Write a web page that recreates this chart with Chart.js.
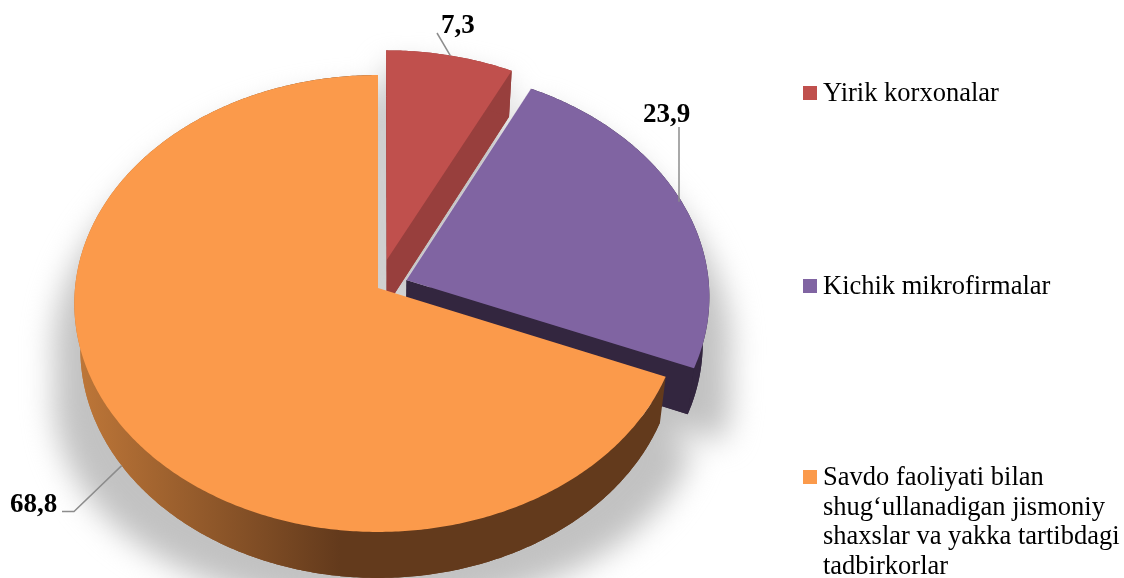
<!DOCTYPE html>
<html lang="en">
<head>
  <meta charset="UTF-8">
  <title>Pie</title>
  <style>
    body { margin: 0; background: #fff; font-family: "Liberation Serif", serif; color: #000; }
    #wrap { position: relative; width: 1124px; height: 578px; overflow: hidden; }
    canvas { position: absolute; left: 0; top: 0; }
    .item { position: absolute; left: 823px; font-size: 26.5px; line-height: 29.5px; white-space: nowrap; }
    .item i { position: absolute; left: -20px; top: 8px; width: 14px; height: 14px; }
  </style>
  <script src="https://cdn.jsdelivr.net/npm/chart.js"></script>
</head>
<body>
  <div id="wrap">
    <canvas id="pie" width="1124" height="578"></canvas>
  </div>
  <script>
const categories = ['Yirik korxonalar', 'Kichik mikrofirmalar', 'Savdo faoliyati bilan shug\u2018ullanadigan jismoniy shaxslar va yakka tartibdagi tadbirkorlar'];
const values = [7.3, 23.9, 68.8];
const valueLabels = ['7,3', '23,9', '68,8'];
const topColors = ['#c0504d', '#8064a2', '#fb9a4b'];
const sideColors = ['#983f3d', '#33263f', '#633a1c'];

// how far each slice is pulled out of the pie (share of the radius)
const explode = [0.128, 0.1, 0];

// projection of the tilted disc
const cx = 378, cy = 288, radX = 303, radY = 227.4, persp = 0.0678;
const depth = 46, lowerShrink = 0.98;

function project(u, v) {
  const d = 1 - persp * v;
  return [cx + radX * u / d, cy + radY * v / d];
}
function lower(p) {
  return [cx + (p[0] - cx) * lowerShrink, p[1] + depth];
}

function sliceGeom(arc, i) {
  const a0 = arc.startAngle + Math.PI / 2, a1 = arc.endAngle + Math.PI / 2;
  const mid = (a0 + a1) / 2;
  const du = Math.sin(mid) * explode[i], dv = -Math.cos(mid) * explode[i];
  const at = t => project(du + Math.sin(t), dv - Math.cos(t));
  const rim = [];
  const n = Math.ceil((a1 - a0) / 0.01);
  for (let k = 0; k <= n; k++) rim.push(at(a0 + (a1 - a0) * k / n));
  return { apex: project(du, dv), rim, midPoint: at(mid) };
}

function poly(ctx, pts, fill) {
  ctx.beginPath();
  pts.forEach((p, k) => k ? ctx.lineTo(p[0], p[1]) : ctx.moveTo(p[0], p[1]));
  ctx.closePath();
  ctx.fillStyle = fill;
  ctx.fill();
}

// the shadow spreads wider towards the bottom of the picture
function shadowPoint(p) {
  const s = 1 + 0.14 * Math.max(0, p[1] - 170) / 300;
  return [cx + (p[0] - cx) * s, p[1] + 17 + 0.03 * (p[1] - 75)];
}

const pie3d = {
  id: 'pie3d',
  beforeDatasetsDraw(chart) {
    const ctx = chart.ctx;
    const geoms = chart.getDatasetMeta(0).data.map((arc, i) => sliceGeom(arc, i));

    // soft shadow under everything
    ctx.save();
    ctx.filter = 'blur(15px)';
    ctx.fillStyle = '#c2c2c2';
    ctx.beginPath();
    geoms.forEach(g => {
      const up = [g.apex].concat(g.rim).map(shadowPoint);
      const low = [lower(g.apex)].concat(g.rim.map(lower)).map(shadowPoint);
      [up, low].forEach(pts => {
        pts.forEach((p, k) => k ? ctx.lineTo(p[0], p[1]) : ctx.moveTo(p[0], p[1]));
        ctx.closePath();
      });
    });
    ctx.fill();
    ctx.restore();

    geoms.forEach((g, i) => {
      let side = sideColors[i];
      if (i === 2) {
        side = ctx.createLinearGradient(80, 0, 340, 0);
        side.addColorStop(0, '#bd7638');
        side.addColorStop(1, sideColors[i]);
      }
      const lowRim = g.rim.map(lower);
      const lowApex = lower(g.apex);
      poly(ctx, [lowApex].concat(lowRim), side);
      poly(ctx, [g.apex, g.rim[g.rim.length - 1], lowRim[lowRim.length - 1], lowApex], sideColors[i]);
      poly(ctx, g.rim.concat(lowRim.slice().reverse()), side);
      poly(ctx, [g.apex].concat(g.rim), topColors[i]);
    });

    // thin light seam along the purple slice
    ctx.strokeStyle = 'rgba(255,255,255,0.35)';
    ctx.lineWidth = 1;
    ctx.beginPath();
    ctx.moveTo(geoms[1].apex[0], geoms[1].apex[1]);
    ctx.lineTo(geoms[1].rim[0][0], geoms[1].rim[0][1]);
    ctx.stroke();

    // leader lines, from the middle of each slice
    const leaders = [
      [[437, 33], geoms[0].midPoint],
      [[679, 127], [679, geoms[1].midPoint[1]]],
      [[62, 511.5], [74, 511.5], lower(geoms[2].midPoint)]
    ];
    ctx.strokeStyle = '#8c8c8c';
    ctx.lineWidth = 1.5;
    leaders.forEach(pts => {
      ctx.beginPath();
      pts.forEach((p, k) => k ? ctx.lineTo(p[0], p[1]) : ctx.moveTo(p[0], p[1]));
      ctx.stroke();
    });

    // value labels
    const labelPos = [[441, 33], [643, 122], [10, 512]];
    ctx.fillStyle = '#000';
    ctx.font = 'bold 27px "Liberation Serif"';
    ctx.textAlign = 'left';
    ctx.textBaseline = 'alphabetic';
    valueLabels.forEach((t, i) => ctx.fillText(t, labelPos[i][0], labelPos[i][1]));
    return false;
  }
};

new Chart(document.getElementById('pie'), {
  type: 'pie',
  data: {
    labels: categories,
    datasets: [{ data: values, backgroundColor: topColors, borderWidth: 0 }]
  },
  options: {
    responsive: false,
    animation: false,
    plugins: { legend: { display: false }, tooltip: { enabled: false } }
  },
  plugins: [pie3d]
});

// legend on the right
const legendTops = [78, 271, 462];
const legendLines = [[categories[0]], [categories[1]],
  ['Savdo faoliyati bilan', 'shug\u2018ullanadigan jismoniy', 'shaxslar va yakka tartibdagi', 'tadbirkorlar']];
categories.forEach((c, i) => {
  const el = document.createElement('div');
  el.className = 'item';
  el.style.top = legendTops[i] + 'px';
  el.innerHTML = '<i style="background:' + topColors[i] + '"></i>' + legendLines[i].join('<br>');
  document.getElementById('wrap').appendChild(el);
});
  </script>
</body>
</html>
